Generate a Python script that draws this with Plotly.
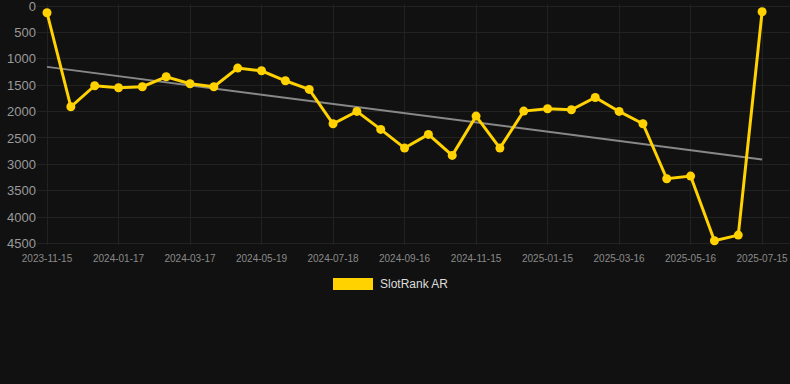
import numpy as np
import plotly.graph_objects as go

dates = [
    "2023-11-15", "2023-12-06", "2023-12-27", "2024-01-17", "2024-02-06", "2024-02-26",
    "2024-03-17", "2024-04-07", "2024-04-28", "2024-05-19", "2024-06-08", "2024-06-28",
    "2024-07-18", "2024-08-07", "2024-08-27", "2024-09-16", "2024-10-06", "2024-10-26",
    "2024-11-15", "2024-12-05", "2024-12-25", "2025-01-15", "2025-02-04", "2025-02-24",
    "2025-03-16", "2025-04-05", "2025-04-26", "2025-05-16", "2025-06-05", "2025-06-25",
    "2025-07-15",
]
rank = [
    126, 1909, 1510, 1548, 1529, 1340, 1473, 1529, 1175, 1226, 1416, 1580,
    2231, 1997, 2338, 2692, 2433, 2831, 2086, 2692, 1991, 1947, 1966, 1732,
    1997, 2231, 3274, 3223, 4449, 4342, 107,
]
tick_labels = dates[::3]
y_ticks = [0, 500, 1000, 1500, 2000, 2500, 3000, 3500, 4000, 4500]
series_name = "SlotRank AR"

YELLOW = "#FFD200"
BG = "#111111"
GRID = "#222222"

idx = np.arange(len(rank))
slope, intercept = np.polyfit(idx, np.array(rank, dtype=float), 1)
trend = (slope * idx + intercept).tolist()

fig = go.Figure()
fig.add_trace(go.Scatter(
    x=[dates[0], dates[-1]], y=[trend[0], trend[-1]],
    mode="lines", line=dict(color="#888888", width=2),
    showlegend=False, hoverinfo="skip",
))
fig.add_trace(go.Scatter(
    x=dates, y=rank, mode="lines+markers", name=series_name,
    line=dict(color=YELLOW, width=3),
    marker=dict(color=YELLOW, size=9),
    showlegend=False, cliponaxis=False,
))

FONT = "Liberation Sans, Arial, sans-serif"
T, B, L = 4, 139, 37
PH = 384 - T - B
PW = 790 - L
fig.update_layout(
    width=790, height=384,
    paper_bgcolor=BG, plot_bgcolor=BG,
    margin=dict(l=L, r=0, t=T, b=B, autoexpand=False),
    showlegend=False,
    font=dict(family=FONT),
    xaxis=dict(
        type="category", categoryorder="array", categoryarray=dates,
        range=[-0.42, 31.17],
        tickvals=tick_labels, ticktext=tick_labels,
        showgrid=True, gridcolor=GRID, gridwidth=1,
        zeroline=False, showline=False, ticks="",
        tickfont=dict(size=10, color="#8a8a8a"),
        ticklabelstandoff=6, ticklabeloverflow="allow",
    ),
    yaxis=dict(
        range=[4530, -40], tickvals=y_ticks,
        showgrid=True, gridcolor=GRID, gridwidth=1,
        zeroline=False, showline=False, ticks="",
        tickfont=dict(size=13, color="#9a9a9a"),
        ticklabeloverflow="allow",
    ),
)

# legend drawn as swatch + text
def px_x(px):
    return (px - L) / PW

def px_y(py):
    return (384 - B - py) / PH

fig.add_shape(type="rect", xref="paper", yref="paper",
              x0=px_x(333), x1=px_x(373), y0=px_y(290), y1=px_y(278),
              fillcolor=YELLOW, line=dict(width=0))
fig.add_annotation(xref="paper", yref="paper",
                   x=px_x(378), y=px_y(284),
                   xanchor="left", yanchor="middle", showarrow=False,
                   text=series_name, font=dict(size=12, color="#dddddd", family=FONT))

fig.write_html("out.html", config={"displayModeBar": False},
               post_script="document.body.style.margin='0';document.body.style.background='#111111';")
